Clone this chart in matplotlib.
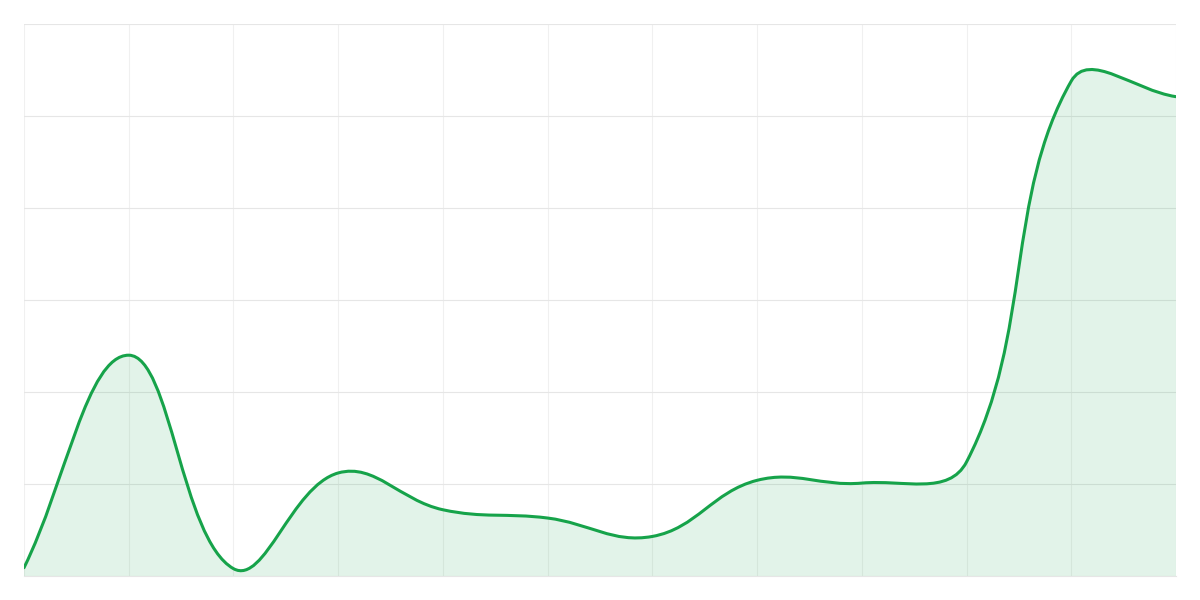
import numpy as np
import matplotlib
matplotlib.use("Agg")
import matplotlib.pyplot as plt
from matplotlib.path import Path
from matplotlib.patches import PathPatch

# ---- data ----
categories = list(range(12))
values = [9, 240, 8, 112, 72, 63, 43, 104, 101, 124, 538, 521]
y_min, y_max = 0, 600
y_ticks = [0, 100, 200, 300, 400, 500, 600]

LINE = "#16a34a"
FILL = (22/255, 163/255, 74/255, 0.12)

fig = plt.figure(figsize=(12, 6), dpi=100)
ax = fig.add_axes([24/1200, 24/600, 1152/1200, 552/600])
ax.set_xlim(categories[0], categories[-1])
ax.set_ylim(y_min, y_max)

# pixel scale factors for spline distances (Chart.js-like tension spline)
sx = 1152 / (categories[-1] - categories[0])
sy = 552 / (y_max - y_min)
pts = np.array([[c * sx, v * sy] for c, v in zip(categories, values)])
tension = 0.4
n = len(pts)
cp_prev = np.zeros_like(pts)
cp_next = np.zeros_like(pts)
for i in range(n):
    prev = pts[i - 1] if i > 0 else pts[i]
    cur = pts[i]
    nxt = pts[i + 1] if i < n - 1 else pts[i]
    d01 = np.hypot(*(cur - prev))
    d12 = np.hypot(*(nxt - cur))
    tot = d01 + d12
    s01 = d01 / tot if tot else 0
    s12 = d12 / tot if tot else 0
    fa = tension * s01
    fb = tension * s12
    cp_prev[i] = cur - fa * (nxt - prev)
    cp_next[i] = cur + fb * (nxt - prev)

def to_data(p):
    return (p[0] / sx, p[1] / sy)

verts = [to_data(pts[0])]
codes = [Path.MOVETO]
for i in range(n - 1):
    verts += [to_data(cp_next[i]), to_data(cp_prev[i + 1]), to_data(pts[i + 1])]
    codes += [Path.CURVE4] * 3
line_path = Path(verts, codes)

fill_verts = verts + [(categories[-1], y_min), (categories[0], y_min), verts[0]]
fill_codes = codes + [Path.LINETO, Path.LINETO, Path.CLOSEPOLY]
ax.add_patch(PathPatch(Path(fill_verts, fill_codes), facecolor=FILL, edgecolor="none", zorder=2))
ax.add_patch(PathPatch(line_path, facecolor="none", edgecolor=LINE, linewidth=2.2,
                       capstyle="round", joinstyle="round", zorder=3))

ax.set_xticks(categories)
ax.set_yticks(y_ticks)
ax.tick_params(length=0, labelbottom=False, labelleft=False)
ax.grid(axis="y", color="#e6e6e6", linewidth=0.8, zorder=1)
ax.grid(axis="x", color="#f0f0f0", linewidth=0.8, zorder=1)
for side in ["top", "right", "left"]:
    ax.spines[side].set_visible(False)
ax.spines["bottom"].set_color("#e6e6e6")
ax.spines["bottom"].set_linewidth(0.8)
ax.set_axisbelow(True)

fig.savefig("out.png", dpi=100, facecolor="white")
